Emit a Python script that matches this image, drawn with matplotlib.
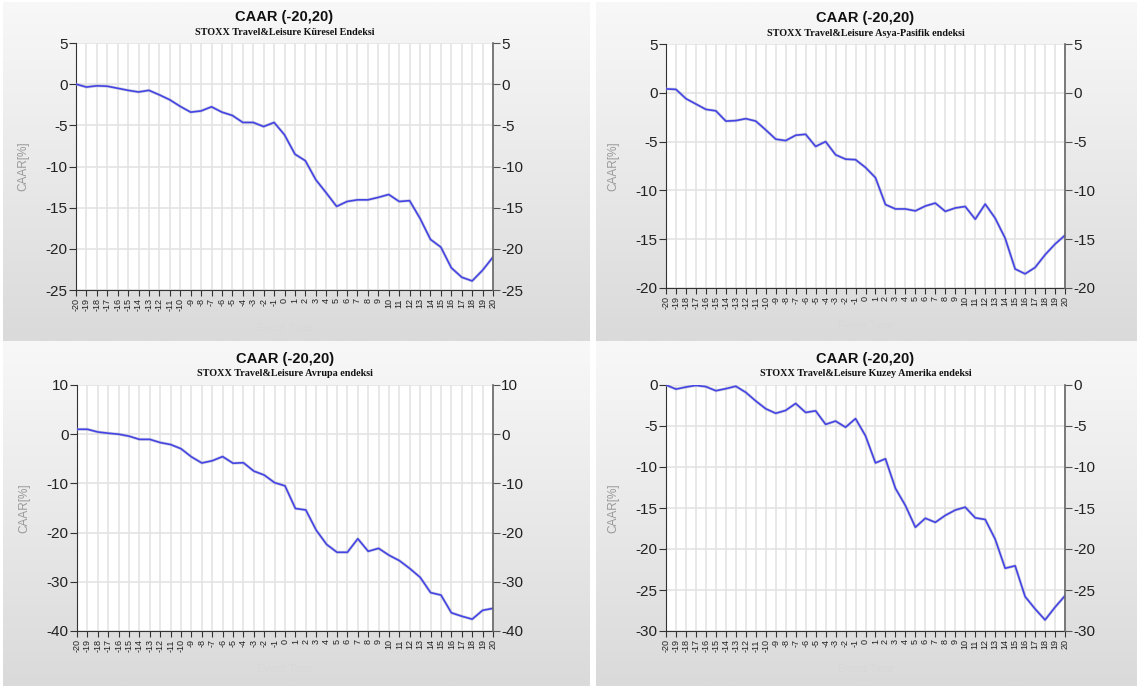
import numpy as np
import matplotlib.pyplot as plt
import matplotlib as mpl
from matplotlib.colors import LinearSegmentedColormap

mpl.rcParams['font.family'] = ['Liberation Sans', 'DejaVu Sans']
mpl.rcParams['axes.unicode_minus'] = False

days = list(range(-20, 21))

caar_kuresel = [0.0, -0.35, -0.2, -0.25, -0.5, -0.75, -0.95, -0.75, -1.3, -1.9,
                -2.7, -3.4, -3.25, -2.75, -3.4, -3.8, -4.65, -4.65, -5.15, -4.65,
                -6.15, -8.5, -9.3, -11.6, -13.2, -14.85, -14.25, -14.05, -14.05, -13.75,
                -13.4, -14.25, -14.15, -16.3, -18.85, -19.8, -22.3, -23.45, -23.9, -22.6,
                -21.0]
caar_asya = [0.4, 0.35, -0.6, -1.15, -1.7, -1.85, -2.9, -2.85, -2.65, -2.9,
             -3.8, -4.75, -4.9, -4.35, -4.25, -5.5, -5.0, -6.35, -6.8, -6.85,
             -7.65, -8.7, -11.45, -11.9, -11.9, -12.1, -11.6, -11.3, -12.15, -11.8,
             -11.65, -12.95, -11.4, -12.85, -14.9, -18.05, -18.55, -17.9, -16.6, -15.5,
             -14.6]
caar_avrupa = [1.0, 1.0, 0.45, 0.2, 0.0, -0.4, -1.05, -1.05, -1.7, -2.1,
               -2.95, -4.6, -5.85, -5.4, -4.55, -5.9, -5.8, -7.5, -8.3, -9.85,
               -10.5, -15.1, -15.4, -19.5, -22.4, -24.0, -24.0, -21.25, -23.8, -23.2,
               -24.6, -25.7, -27.3, -29.1, -32.2, -32.7, -36.3, -37.0, -37.6, -35.8,
               -35.4]
caar_amerika = [0.0, -0.5, -0.25, -0.05, -0.2, -0.7, -0.45, -0.15, -0.9, -1.95,
                -2.9, -3.45, -3.1, -2.25, -3.35, -3.15, -4.8, -4.4, -5.15, -4.1,
                -6.2, -9.5, -9.0, -12.6, -14.7, -17.35, -16.25, -16.75, -15.9, -15.25,
                -14.9, -16.2, -16.4, -18.8, -22.35, -22.05, -25.8, -27.3, -28.65, -27.1,
                -25.7]

subtitles = ["STOXX Travel&Leisure Küresel Endeksi",
             "STOXX Travel&Leisure Asya-Pasifik endeksi",
             "STOXX Travel&Leisure Avrupa endeksi",
             "STOXX Travel&Leisure Kuzey Amerika endeksi"]
series = [caar_kuresel, caar_asya, caar_avrupa, caar_amerika]
ylims = [(-25, 5), (-20, 5), (-40, 10), (-30, 0)]
ysteps = [5, 5, 10, 5]

W, H = 1137, 686
fig = plt.figure(figsize=(W / 100, H / 100), dpi=100)

# panel boxes (pixels): x0, x1, y0, y1 (y from top)
panels = [(3, 589, 2, 341), (596, 1137, 2, 341), (3, 589, 341, 686), (596, 1137, 341, 686)]
# plot areas (pixels)
plots = [(76, 493, 43, 290), (666, 1065, 44, 288), (77, 493, 385, 631), (666, 1065, 385, 631)]

grad = LinearSegmentedColormap.from_list("bg", ["#f8f8f8", "#dadada"])
gimg = np.linspace(0, 1, 256).reshape(-1, 1)


def fbox(x0, x1, y0, y1):
    return [x0 / W, 1 - y1 / H, (x1 - x0) / W, (y1 - y0) / H]


for i in range(4):
    bg = fig.add_axes(fbox(*panels[i]), zorder=0)
    bg.imshow(gimg, aspect="auto", cmap=grad, extent=[0, 1, 0, 1], origin="upper")
    bg.axis("off")

    ax = fig.add_axes(fbox(*plots[i]), zorder=1)
    ax.set_facecolor("white")
    lo, hi = ylims[i]
    ax.set_xlim(-20, 20)
    ax.set_ylim(lo, hi)
    ax.set_xticks(days)
    ax.set_xticklabels([str(d) for d in days], rotation=90, fontsize=6.5, color="#222222")
    yt = np.arange(lo, hi + 1, ysteps[i])
    ax.set_yticks(yt)
    ax.tick_params(axis="y", labelsize=11, length=5, color="#333333", labelcolor="#222222", pad=1)
    ax.tick_params(axis="x", length=4, color="#333333", pad=2)
    ax.grid(axis="x", color="#e2e2e2", linewidth=1.1)
    ax.grid(axis="y", color="#e2e2e2", linewidth=1.1)
    ax.set_axisbelow(True)
    ax.spines["top"].set_visible(False)
    ax.spines["right"].set_visible(False)
    ax.spines["left"].set_color("#333333")
    ax.spines["bottom"].set_color("#333333")

    # shadow + line
    ax.plot(days, series[i], color="#a8a8c8", linewidth=2.2, alpha=0.5, zorder=3)
    ax.plot(days, series[i], color="#4444e4", linewidth=1.2, zorder=4)

    axr = ax.twinx()
    axr.set_ylim(lo, hi)
    axr.set_yticks(yt)
    axr.tick_params(axis="y", labelsize=11, length=5, color="#555555", labelcolor="#222222", pad=1)
    for s in ["top", "left", "bottom"]:
        axr.spines[s].set_visible(False)
    axr.spines["right"].set_color("#666666")
    axr.spines["right"].set_linewidth(1.2)

    ax.set_ylabel("CAAR[%]", color="#999999", fontsize=8.5, labelpad=12)
    ax.set_xlabel("Event Time", color="#d8d8d8", fontsize=8, labelpad=8)

    x0, x1, y0, y1 = plots[i]
    ax.text(0.5, 1 + 26 / (y1 - y0), "CAAR (-20,20)", transform=ax.transAxes,
            ha="center", va="center", fontsize=10.5, fontweight="bold", color="#111111")
    ax.text(0.5, 1 + 11 / (y1 - y0), subtitles[i], transform=ax.transAxes,
            ha="center", va="center", fontsize=7.3, fontweight="bold",
            family="Liberation Serif", color="#111111")

fig.savefig("out.png", dpi=100)
